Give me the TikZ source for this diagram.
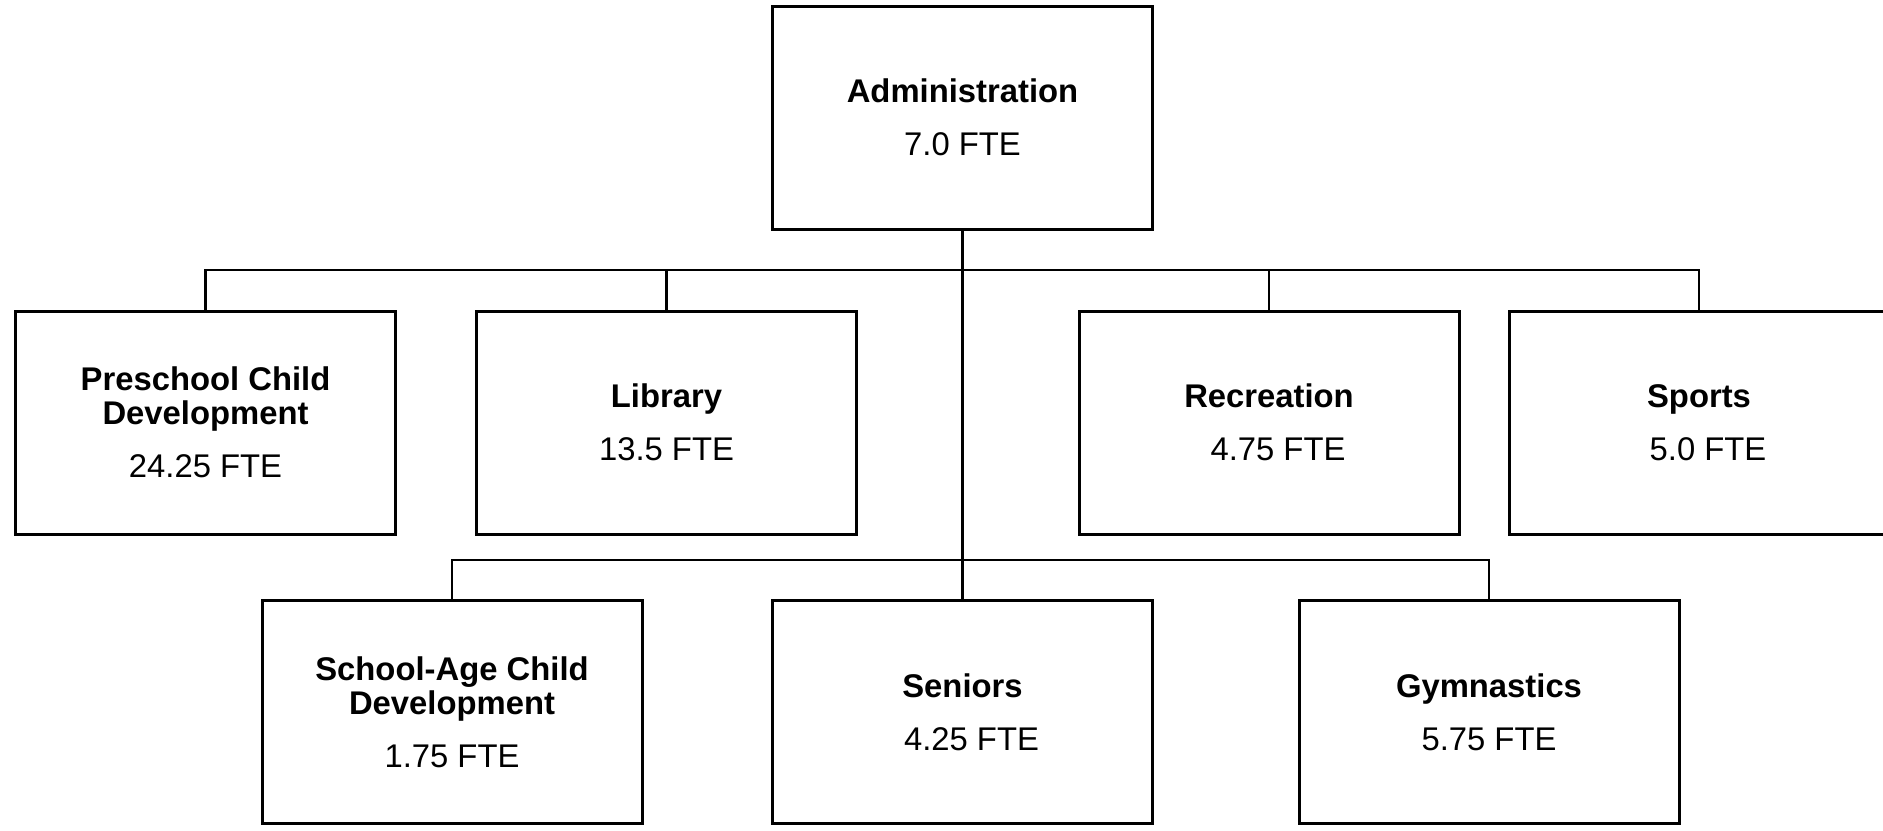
\documentclass[tikz,border=0pt]{standalone}
\usepackage{fontspec}
\setmainfont{Liberation Sans}

\begin{document}
\begin{tikzpicture}[x=0.5pt, y=-0.5pt,
    unit/.style={draw, line width=1.5pt, minimum width=190pt, minimum height=111.5pt,
      inner sep=0pt, align=center, font=\fontsize{16.4}{17}\selectfont},
    link/.style={line width=1.4pt}]

  \clip (0,0) rectangle (1883,830);

  \node[unit] (admin) at (962.5,117.5) {\textbf{Administration}\\[9.5pt]7.0 FTE};

  \node[unit] (preschool)  at (205.5,422.5) {\textbf{Preschool Child}\\\textbf{Development}\\[9.5pt]24.25 FTE};
  \node[unit] (library)    at (666.5,422.5) {\textbf{Library}\\[9.5pt]13.5 FTE};
  \node[unit] (recreation) at (1269,422.5)  {\textbf{Recreation}\\[9.5pt]\hspace*{9pt}4.75 FTE};
  \node[unit] (sports)     at (1699,422.5)  {\textbf{Sports}\\[9.5pt]\hspace*{9pt}5.0 FTE};

  \node[unit] (schoolage)  at (452,712)     {\textbf{School-Age Child}\\\textbf{Development}\\[9.5pt]1.75 FTE};
  \node[unit] (seniors)    at (962.5,712)   {\textbf{Seniors}\\[9.5pt]\hspace*{9pt}4.25 FTE};
  \node[unit] (gymnastics) at (1489,712)    {\textbf{Gymnastics}\\[9.5pt]5.75 FTE};

  \coordinate (topbus) at (962.5,270);
  \coordinate (lowbus) at (962.5,560);

  \draw[link, line width=1.5pt] (admin.south) -- (seniors.north);
  \draw[link] (preschool.north) |- (topbus);
  \draw[link] (library.north) |- (topbus);
  \draw[link] (recreation.north) |- (topbus);
  \draw[link] (sports.north) |- (topbus);
  \draw[link] (schoolage.north) |- (lowbus);
  \draw[link] (gymnastics.north) |- (lowbus);
\end{tikzpicture}
\end{document}
